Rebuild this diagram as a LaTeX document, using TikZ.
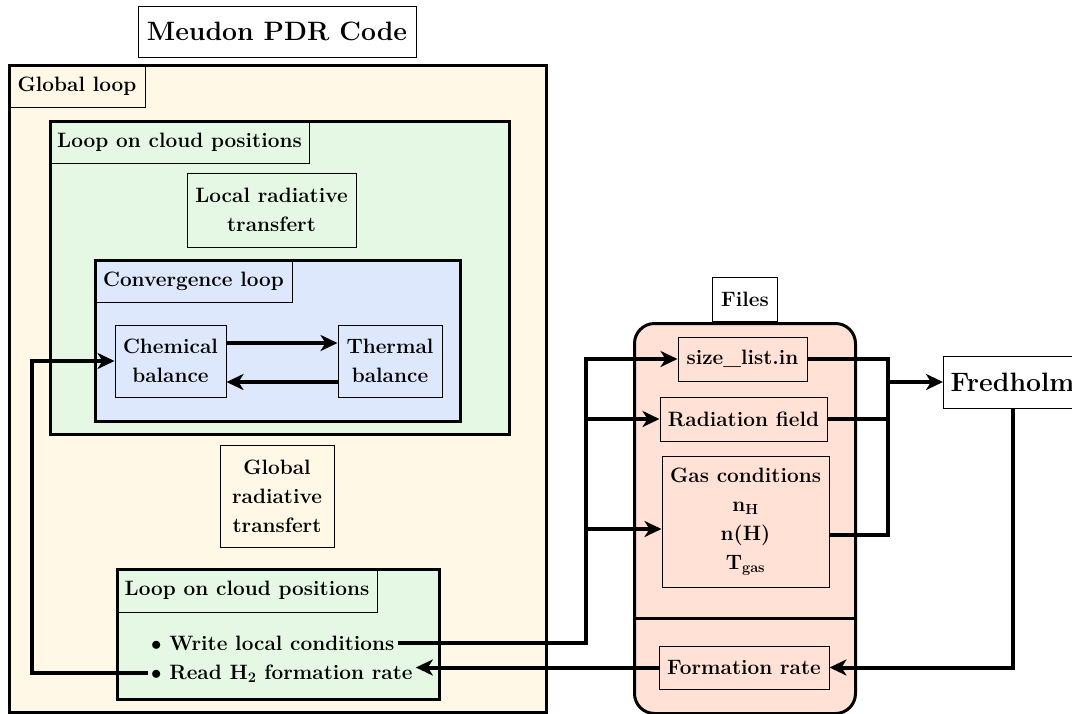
\documentclass[tikz,border=0pt]{standalone}
\usetikzlibrary{arrows.meta}
\definecolor{cream}{RGB}{255,248,230}
\definecolor{lgreen}{RGB}{228,248,228}
\definecolor{lblue}{RGB}{221,232,252}
\definecolor{salmon}{RGB}{255,225,213}
\begin{document}
\begin{tikzpicture}[x=1pt,y=-1pt,
  base/.style={font=\fontsize{20.8}{29}\selectfont\bfseries},
  big/.style={font=\fontsize{26.6}{31}\selectfont\bfseries},
  container/.style={draw,line width=3pt,inner sep=0pt,anchor=north west},
  tag/.style={base,draw,line width=1pt,inner sep=0pt,anchor=north west,align=center},
  boxx/.style={base,draw,line width=1pt,inner sep=0pt,align=center},
  conn/.style={line width=4pt},
  arr/.style={line width=4pt,-{Stealth[length=17pt,width=16pt,inset=5pt]}},
  item/.style={base,inner sep=3pt,anchor=base west}]
\useasboundingbox (0,0) rectangle (1072,713);
\clip (0,0) rectangle (1072,713);
% title
\node[boxx,big,fill=white,minimum width=278pt,minimum height=51pt] (title) at (277,31.5) {Meudon PDR Code};
% containers
\node[container,fill=cream,minimum width=537pt,minimum height=647pt] (outer) at (8,64) {};
\node[tag,minimum width=137pt,minimum height=43pt] (outerlbl) at (outer.north west) {Global loop};
\node[container,fill=lgreen,minimum width=459pt,minimum height=313pt] (loopA) at (49,120) {};
\node[tag,minimum width=260pt,minimum height=43pt] (loopAlbl) at (loopA.north west) {Loop on cloud positions};
\node[boxx,fill=lgreen,minimum width=169pt,minimum height=74pt] (lrt) at (271.5,210) {Local radiative\\transfert};
\node[container,fill=lblue,minimum width=365pt,minimum height=161pt] (conv) at (94,259) {};
\node[tag,minimum width=198pt,minimum height=43pt] (convlbl) at (conv.north west) {Convergence loop};
\node[boxx,fill=lblue,minimum width=111pt,minimum height=72pt] (chem) at (170.5,361) {Chemical\\balance};
\node[boxx,fill=lblue,minimum width=104pt,minimum height=72pt] (therm) at (390,361) {Thermal\\balance};
\node[boxx,fill=cream,minimum width=114pt,minimum height=102pt] (grt) at (277,496) {Global\\radiative\\transfert};
\node[container,fill=lgreen,minimum width=322pt,minimum height=130pt] (loopB) at (116,568) {};
\node[tag,minimum width=261pt,minimum height=44pt] (loopBlbl) at (loopB.north west) {Loop on cloud positions};
\node[item] (write) at (148,650) {$\bullet$ Write local conditions};
\node[item] (read) at (148,679) {$\bullet$ Read H\textsubscript{2} formation rate};
% files
\node[draw,line width=3pt,rounded corners=20pt,fill=salmon,inner sep=0pt,anchor=north west,minimum width=221pt,minimum height=390pt] (files) at (633,322) {};
\node[tag,fill=white,minimum width=65pt,minimum height=44pt,anchor=south west] (fileslbl) at (files.north west -| 712,0) {Files};
\draw[line width=3pt] (files.west |- 0,618) -- (files.east |- 0,618);
\node[boxx,fill=salmon,minimum width=129pt,minimum height=44pt] (size) at (742.5,359) {size\_list.in};
\node[boxx,fill=salmon,minimum width=167pt,minimum height=44pt] (rad) at (743.5,419) {Radiation field};
\node[boxx,fill=salmon,minimum width=167pt,minimum height=131pt] (gas) at (745.5,521.5) {Gas conditions\\n\textsubscript{H}\\n(H)\\T\textsubscript{gas}};
\node[boxx,fill=salmon,minimum width=170pt,minimum height=43pt] (form) at (744,667.5) {Formation rate};
\node[boxx,big,fill=white,minimum width=138pt,minimum height=52pt,anchor=west] (fred) at (943,382) {Fredholm};
% connectors
\draw[arr] ([yshift=18pt]chem.east) -- ([yshift=18pt]chem.east -| therm.west);
\draw[arr] ([yshift=-21pt]therm.west) -- ([yshift=-21pt]therm.west -| chem.east);
\coordinate (busC) at (32,0);
\coordinate (busL) at (586,0);
\coordinate (busR) at (888,0);
\coordinate (gasin) at ([yshift=-7.5pt]gas.west);
\coordinate (gasout) at ([yshift=-13.5pt]gas.east);
\draw[arr] (read.west) -- (busC |- read.west) |- (chem.west);
\draw[arr] (write.east) -| (busL |- size.west) -- (size.west);
\draw[arr] (busL |- rad.west) -- (rad.west);
\draw[arr] (busL |- gasin) -- (gasin);
\draw[conn] (size.east) -| (busR |- gasout) -- (gasout);
\draw[conn] (rad.east) -- (busR |- rad.east);
\draw[arr] (busR |- fred.west) -- (fred.west);
\draw[arr] (fred.south) |- (form.east);
\draw[arr] (form.west) -- (form.west -| read.east);
\end{tikzpicture}
\end{document}
